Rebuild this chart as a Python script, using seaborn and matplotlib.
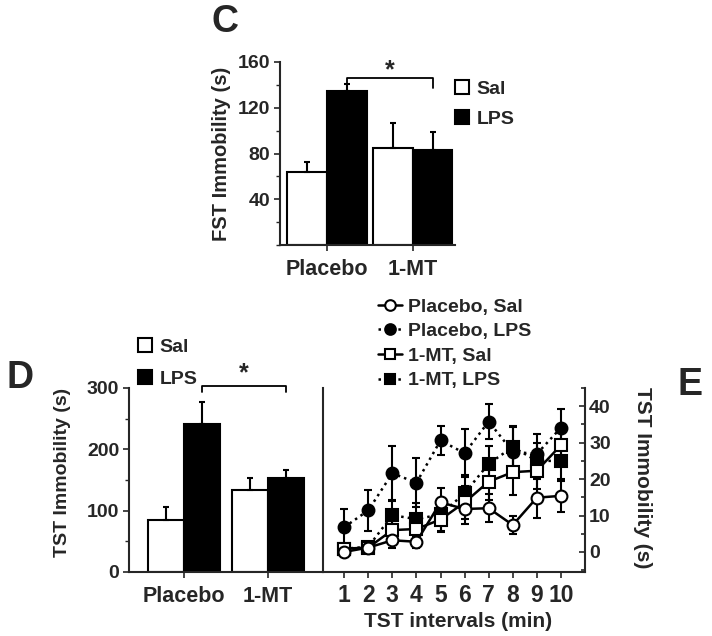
import matplotlib
matplotlib.use("Agg")
import matplotlib.pyplot as plt
from matplotlib.ticker import MultipleLocator
import seaborn as sns
import pandas as pd
import numpy as np

sns.set_style("ticks")
plt.rcParams["font.family"] = ["Liberation Sans", "DejaVu Sans"]
plt.rcParams["font.weight"] = "bold"
plt.rcParams["axes.labelweight"] = "bold"

# bar groups shared by panels C and D
drug = ["Placebo", "Placebo", "1-MT", "1-MT"]
treatment = ["Sal", "LPS", "Sal", "LPS"]

# C: forced swim test immobility (s)
fst_mean = [64, 135, 85, 83]
fst_sem = [9, 6, 22, 16]

# D: tail suspension test immobility (s)
tst_mean = [85, 241, 133, 154]
tst_sem = [21, 36, 21, 13]

# E: TST immobility per 1-min interval
minutes = [1, 2, 3, 4, 5, 6, 7, 8, 9, 10]
plac_sal = [0.0, 1.2, 3.2, 2.8, 13.6, 11.8, 12.0, 7.4, 14.9, 15.4]
plac_sal_err = [1.0, 1.0, 2.0, 1.8, 4.0, 4.0, 3.8, 2.6, 5.5, 4.5]
plac_lps = [6.8, 11.4, 21.6, 19.0, 30.6, 27.1, 35.8, 27.5, 26.9, 34.1]
plac_lps_err = [5.0, 5.6, 7.6, 6.7, 4.0, 6.6, 4.9, 7.0, 5.4, 5.2]
mt_sal = [0.9, 1.2, 6.0, 6.3, 8.9, 13.6, 19.3, 21.9, 22.3, 29.3]
mt_sal_err = [1.0, 1.0, 2.5, 2.5, 3.5, 4.5, 5.0, 6.3, 5.0, 5.0]
mt_lps = [0.9, 1.4, 10.1, 9.0, 10.3, 16.1, 24.2, 28.8, 25.0, 25.0]
mt_lps_err = [1.0, 1.0, 4.2, 4.5, 4.5, 5.0, 5.0, 5.5, 5.0, 5.5]

W, H = 712, 636
fig = plt.figure(figsize=(W / 100, H / 100), dpi=100)


def px_axes(left, right, top, bottom):
    return fig.add_axes([left / W, 1 - bottom / H, (right - left) / W, (bottom - top) / H])


def bar_panel(ax, means, sems, width):
    df = pd.DataFrame({"drug": drug, "treatment": treatment, "value": means, "sem": sems})
    sns.barplot(data=df, x="drug", y="value", hue="treatment", order=["Placebo", "1-MT"],
                hue_order=["Sal", "LPS"], palette={"Sal": "white", "LPS": "black"},
                edgecolor="black", linewidth=1.5, width=width, errorbar=None, ax=ax)
    centers = {}
    for p in ax.patches:
        h = p.get_height()
        if p.get_width() <= 0 or h <= 0:
            continue
        row = df[np.isclose(df["value"], h)].iloc[0]
        xc = p.get_x() + p.get_width() / 2
        centers[(row["drug"], row["treatment"])] = xc
        ax.errorbar(xc, h, yerr=[[0], [row["sem"]]], fmt="none", ecolor="black",
                    elinewidth=1.5, capsize=2.5, capthick=1.5)
    sns.despine(ax=ax)
    for s in ["left", "bottom"]:
        ax.spines[s].set_linewidth(1.5)
    ax.set_xlabel("")
    ax.tick_params(axis="both", width=1.2, length=4, labelsize=14, pad=3)
    ax.tick_params(axis="x", labelsize=15.5, pad=6)
    ax.tick_params(axis="y", which="minor", width=1.0, length=3, left=True)
    handles, labels = ax.get_legend_handles_labels()
    ax.get_legend().remove()
    return centers, handles, labels


def bracket(ax, x0, x1, y, drop, star_y):
    ax.plot([x0, x0, x1, x1], [y - drop, y, y, y - drop], color="black", lw=1.3,
            clip_on=False)
    ax.text((x0 + x1) / 2, star_y, "*", ha="center", va="center", fontsize=18,
            fontweight="bold")


# ---------------- panel C ----------------
axC = px_axes(280, 455, 62, 245)
cC, hC, lC = bar_panel(axC, fst_mean, fst_sem, 0.92)
axC.set_xlim(-0.547, 1.49)
axC.set_ylim(0, 160)
axC.set_yticks([40, 80, 120, 160])
axC.yaxis.set_minor_locator(MultipleLocator(20))
axC.set_ylabel("FST Immobility (s)", fontsize=14.5)
axC.yaxis.set_label_coords(-0.28, 0.5)
bracket(axC, cC[("Placebo", "LPS")], cC[("1-MT", "LPS")], 146, 9, 153)
fig.legend(hC, lC, loc="upper left", bbox_to_anchor=(455 / W, 1 - 80 / H), frameon=False,
           fontsize=14, handlelength=0.72, handleheight=0.72, handletextpad=0.4,
           labelspacing=0.65, borderpad=0, borderaxespad=0)

# ---------------- panel D ----------------
axD = px_axes(129, 323, 388, 572)
cD, hD, lD = bar_panel(axD, tst_mean, tst_sem, 0.86)
axD.set_xlim(-0.655, 1.655)
axD.set_ylim(0, 300)
axD.set_yticks([0, 100, 200, 300])
axD.yaxis.set_minor_locator(MultipleLocator(50))
axD.set_ylabel("TST Immobility (s)", fontsize=14)
axD.yaxis.set_label_coords(-0.30, 0.54)
bracket(axD, cD[("Placebo", "LPS")], cD[("1-MT", "LPS")], 304, 11, 324)
fig.legend(hD, lD, loc="upper left", bbox_to_anchor=(138 / W, 1 - 338 / H), frameon=False,
           fontsize=14, handlelength=0.72, handleheight=0.72, handletextpad=0.4,
           labelspacing=0.75, borderpad=0, borderaxespad=0)

# ---------------- panel E ----------------
axE = px_axes(323, 585, 388, 572)
series = [
    ("1-MT, LPS", mt_lps, mt_lps_err, "s", "black", ":"),
    ("1-MT, Sal", mt_sal, mt_sal_err, "s", "white", "-"),
    ("Placebo, LPS", plac_lps, plac_lps_err, "o", "black", ":"),
    ("Placebo, Sal", plac_sal, plac_sal_err, "o", "white", "-"),
]
for label, vals, err, mk, fc, ls in series:
    axE.errorbar(minutes, vals, yerr=err, fmt="none", ecolor="black", elinewidth=1.5,
                 capsize=3, capthick=1.5, zorder=2)
    sns.lineplot(x=minutes, y=vals, ax=axE, color="black", marker=mk, markersize=8.5,
                 markerfacecolor=fc, markeredgecolor="black", markeredgewidth=1.5,
                 linestyle=ls, linewidth=1.8, label=label, zorder=3)
axE.set_xlim(0.12, 11)
axE.set_ylim(-5.5, 45)
axE.set_xticks(minutes)
axE.yaxis.tick_right()
axE.set_yticks([0, 10, 20, 30, 40])
axE.yaxis.set_minor_locator(MultipleLocator(5))
for s in ["left", "bottom", "right"]:
    axE.spines[s].set_linewidth(1.5)
axE.spines["top"].set_visible(False)
axE.tick_params(axis="x", width=1.2, length=4, labelsize=16.5, pad=5)
axE.tick_params(axis="y", which="both", direction="in", width=1.2, length=4,
                labelsize=14, pad=3, left=False, right=True)
axE.tick_params(axis="y", which="minor", length=3)
axE.set_ylabel("")
axE.set_xlabel("TST intervals (min)", fontsize=15)
axE.xaxis.set_label_coords(0.515, -0.215)
axE.text(1.218, 0.51, "TST Immobility (s)", transform=axE.transAxes, rotation=270,
         ha="center", va="center", fontsize=15, fontweight="bold")
hE, lE = axE.get_legend_handles_labels()
axE.get_legend().remove()
order = [3, 2, 1, 0]
fig.legend([hE[i] for i in order], [lE[i] for i in order], loc="upper left",
           bbox_to_anchor=(378 / W, 1 - 298 / H), frameon=False, fontsize=14,
           handlelength=1.25, handletextpad=0.3, labelspacing=0.36, borderpad=0,
           borderaxespad=0, markerscale=0.9)

# panel letters
fig.text(225 / W, 1 - 22 / H, "C", ha="center", va="center", fontsize=27, fontweight="bold")
fig.text(20 / W, 1 - 378 / H, "D", ha="center", va="center", fontsize=27, fontweight="bold")
fig.text(690 / W, 1 - 385 / H, "E", ha="center", va="center", fontsize=27, fontweight="bold")

fig.savefig("out.png", dpi=100)
